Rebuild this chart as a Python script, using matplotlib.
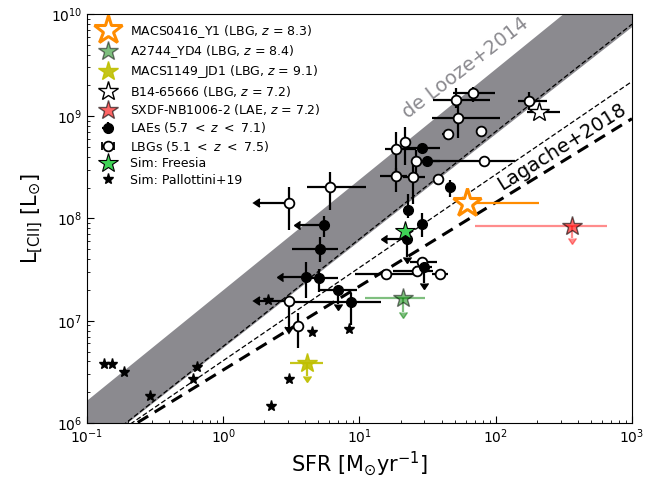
import numpy as np
import matplotlib.pyplot as plt

# de Looze+2014 band: upper / lower edges (log L = a + b log SFR)
delooze_upper = (7.298, 1.081)
delooze_lower = (6.732, 1.046)
# Lagache+2018 redshifts
lagache_z_thin = [5.0, 7.0]
lagache_z_thick = 8.3

# LBGs (5.1 < z < 7.5): SFR, SFR range, L[CII], L range, limit flags
lbg_sfr = [3.03, 6.07, 18.4, 21.5, 18.4, 24.5, 25.8, 37.8, 44.3, 77.8, 50.7,
           68.2, 52.5, 175, 82.2, 15.7, 28.6, 26.5, 38.9, 3.03, 3.51]
lbg_sfr_lo = [1.86, 4.09, 15.4, 21.5, 14.1, 20.8, 25.8, 34.5, 40.5, 71.5, 34.5,
              48.4, 33.8, 145, 32.9, 9.25, 23.4, 17.6, 33.8, 1.86, 3.51]
lbg_sfr_hi = [3.03, 11.1, 26.2, 21.5, 22.2, 30.2, 25.8, 40.5, 48.4, 85, 90.5,
              98.5, 107, 236, 138, 26.2, 36.8, 34.5, 44.8, 3.03, 3.51]
lbg_L = [1.43e8, 2.05e8, 4.76e8, 5.65e8, 2.61e8, 2.57e8, 3.66e8, 2.45e8, 6.72e8,
         7.18e8, 1.44e9, 1.68e9, 9.7e8, 1.41e9, 3.66e8, 2.86e7, 3.79e7, 3.04e7,
         2.86e7, 1.57e7, 8.9e6]
lbg_L_lo = [7.74e7, 1.21e8, 2.77e8, 3.34e8, 1.8e8, 1.4e8, 2.6e8, 2.45e8, 6.72e8,
            7.18e8, 1.21e9, 1.39e9, 6.09e8, 1.15e9, 3.66e8, 2.86e7, 3.79e7,
            3.04e7, 2.86e7, 8.78e6, 5.43e6]
lbg_L_hi = [2.05e8, 2.87e8, 7.08e8, 7.9e8, 3.1e8, 3.3e8, 4.7e8, 2.45e8, 6.72e8,
            7.18e8, 1.89e9, 1.95e9, 1.44e9, 1.74e9, 3.66e8, 2.86e7, 3.79e7,
            3.04e7, 2.86e7, 1.57e7, 1.19e7]
lbg_sfr_ul = [1, 0, 0, 0, 0, 0, 0, 0, 0, 0, 0, 0, 0, 0, 0, 0, 0, 0, 0, 1, 0]
lbg_L_ul = [0, 0, 0, 0, 0, 0, 0, 0, 0, 0, 0, 0, 0, 0, 0, 0, 0, 0, 0, 1, 0]

# LAEs (5.7 < z < 7.1)
lae_sfr = [29.0, 31.1, 46.0, 22.8, 28.6, 22.5, 5.48, 5.12, 4.04, 5.04, 6.98, 8.65, 29.8]
lae_sfr_lo = [21.5, 26.0, 46.0, 22.8, 28.6, 15.8, 3.65, 3.18, 2.75, 3.98, 5.12, 3.3, 25.5]
lae_sfr_hi = [38.9, 39.0, 46.0, 22.8, 28.6, 22.5, 5.48, 6.98, 4.04, 6.98, 9.53, 14.5, 33.8]
lae_L = [4.87e8, 3.66e8, 2.05e8, 1.21e8, 8.9e7, 6.36e7, 8.65e7, 5.05e7, 2.70e7,
         2.61e7, 2.0e7, 1.51e7, 3.39e7]
lae_L_lo = [4.87e8, 3.66e8, 1.63e8, 1.01e8, 6.65e7, 4.17e7, 6.65e7, 3.79e7, 1.66e7,
            1.93e7, 1.45e7, 9.1e6, 2.33e7]
lae_L_hi = [4.87e8, 3.66e8, 2.4e8, 1.75e8, 1.14e8, 6.36e7, 1.05e8, 6.65e7, 3.79e7,
            3.2e7, 2.0e7, 1.88e7, 3.39e7]
lae_sfr_ul = [0, 0, 0, 0, 0, 1, 1, 0, 1, 0, 0, 0, 0]
lae_L_ul = [0, 0, 0, 0, 0, 1, 0, 0, 0, 0, 1, 0, 1]

# Sim: Pallottini+19
pal_sfr = [0.134, 0.153, 0.188, 0.290, 0.638, 0.596, 2.26, 3.05, 4.45, 8.4, 2.14]
pal_L = [3.79e6, 3.79e6, 3.18e6, 1.82e6, 3.56e6, 2.70e6, 1.47e6, 2.70e6, 7.84e6, 8.28e6, 1.6e7]

# Sim: Freesia
freesia_sfr, freesia_L = 21.5, 7.6e7

# individual high-z galaxies: SFR, SFR err (low, high), L[CII], L err (upper limits)
m0416_sfr, m0416_sfr_err, m0416_L = 61.4, (8, 146), 1.42e8
a2744_sfr, a2744_sfr_err, a2744_L, a2744_L_err = 20.7, (9.7, 9.5), 1.66e7, 0.43e7
m1149_sfr, m1149_sfr_err, m1149_L, m1149_L_err = 4.1, (1.0, 1.3), 3.86e6, 1.0e6
b14_sfr, b14_sfr_err, b14_L = 208, (39, 87), 1.11e9
sxdf_sfr, sxdf_sfr_err, sxdf_L, sxdf_L_err = 360, (290, 290), 8.53e7, 2.1e7


def asym(val, lo, hi):
    val, lo, hi = np.array(val), np.array(lo), np.array(hi)
    return np.vstack([val - lo, hi - val])


fig = plt.figure(figsize=(6.68, 4.79), dpi=100)
ax = fig.add_axes([0.1302, 0.1169, 0.8159, 0.8539])
ax.set_xscale('log')
ax.set_yscale('log')
ax.set_xlim(0.1, 1e3)
ax.set_ylim(1e6, 1e10)

# relations
lsfr = np.linspace(-1, 3, 200)
sfr = 10 ** lsfr
ax.fill_between(sfr, 10 ** (delooze_lower[0] + delooze_lower[1] * lsfr),
                10 ** (delooze_upper[0] + delooze_upper[1] * lsfr),
                color='#8b8a8f', lw=0, zorder=0)
for z in lagache_z_thin:
    ax.plot(sfr, 10 ** ((1.4 - 0.07 * z) * lsfr + 7.1 - 0.07 * z),
            'k--', lw=0.9, dashes=(4, 2), zorder=1)
ax.plot(sfr, 10 ** ((1.4 - 0.07 * lagache_z_thick) * lsfr + 7.1 - 0.07 * lagache_z_thick),
        'k--', lw=2.2, dashes=(4, 2.5), zorder=1)
ax.text(60, 3.0e9, 'de Looze+2014', color='#8b8a8f', fontsize=14,
        rotation=37.5, ha='center', va='center', rotation_mode='anchor')
ax.text(303, 5.0e8, 'Lagache+2018', color='k', fontsize=14,
        rotation=32, ha='center', va='center', rotation_mode='anchor')

# compilations
lbg_sfr_ul = np.array(lbg_sfr_ul, bool)
lbg_L_ul = np.array(lbg_L_ul, bool)
lae_sfr_ul = np.array(lae_sfr_ul, bool)
lae_L_ul = np.array(lae_L_ul, bool)

ax.errorbar(lbg_sfr, lbg_L, xerr=asym(lbg_sfr, lbg_sfr_lo, lbg_sfr_hi),
            yerr=asym(lbg_L, lbg_L_lo, lbg_L_hi), xuplims=lbg_sfr_ul, uplims=lbg_L_ul,
            fmt='o', color='k', ms=7, mfc='w', mec='k', mew=1.3, ecolor='k',
            elinewidth=1.6, capsize=0, zorder=3)
ax.errorbar(lae_sfr, lae_L, xerr=asym(lae_sfr, lae_sfr_lo, lae_sfr_hi),
            yerr=asym(lae_L, lae_L_lo, lae_L_hi), xuplims=lae_sfr_ul, uplims=lae_L_ul,
            fmt='o', color='k', ms=7, ecolor='k', elinewidth=1.6,
            capsize=0, zorder=3)

# legend proxies for the compilations
h_lae = ax.errorbar([np.nan], [np.nan], xerr=[1], yerr=[1], fmt='o', color='k', ms=7,
                    ecolor='k', elinewidth=1.6, capsize=0)
h_lbg = ax.errorbar([np.nan], [np.nan], xerr=[1], fmt='o', color='k', ms=7, mfc='w',
                    mec='k', mew=1.3, ecolor='k', elinewidth=1.6, capsize=3)

h_pal, = ax.plot(pal_sfr, pal_L, '*', color='k', ms=8, ls='none', zorder=4)
h_fre, = ax.plot([freesia_sfr], [freesia_L], '*', color='#3fd356', mec='k', mew=0.8,
                 ms=15, ls='none', zorder=5)

# individual galaxies
ax.errorbar([m0416_sfr], [m0416_L], xerr=[[m0416_sfr_err[0]], [m0416_sfr_err[1]]],
            fmt='none', color='darkorange', elinewidth=1.6, zorder=4)
h_m0416, = ax.plot([m0416_sfr], [m0416_L], '*', ms=21, mfc='w', mec='darkorange',
                   mew=2.2, ls='none', zorder=5)

ax.errorbar([a2744_sfr], [a2744_L], xerr=[[a2744_sfr_err[0]], [a2744_sfr_err[1]]],
            yerr=[[a2744_L_err], [0]], uplims=[True], fmt='none', color='green',
            elinewidth=1.6, alpha=0.5, zorder=4)
h_a2744, = ax.plot([a2744_sfr], [a2744_L], '*', ms=15, color='green', mec='k',
                   alpha=0.5, ls='none', zorder=5)

ax.errorbar([m1149_sfr], [m1149_L], xerr=[[m1149_sfr_err[0]], [m1149_sfr_err[1]]],
            yerr=[[m1149_L_err], [0]], uplims=[True], fmt='none', color='#bfbf00',
            elinewidth=1.6, alpha=0.9, zorder=4)
h_m1149, = ax.plot([m1149_sfr], [m1149_L], '*', ms=15, color='#bfbf00',
                   mec='#bfbf00', alpha=0.9, ls='none', zorder=5)

ax.errorbar([b14_sfr], [b14_L], xerr=[[b14_sfr_err[0]], [b14_sfr_err[1]]],
            fmt='none', color='k', elinewidth=1.6, zorder=4)
h_b14, = ax.plot([b14_sfr], [b14_L], '*', ms=15, mfc='w', mec='k', mew=1.0,
                 ls='none', zorder=5)

ax.errorbar([sxdf_sfr], [sxdf_L], xerr=[[sxdf_sfr_err[0]], [sxdf_sfr_err[1]]],
            yerr=[[sxdf_L_err], [0]], uplims=[True], fmt='none', color='red',
            elinewidth=1.6, alpha=0.45, zorder=4)
h_sxdf, = ax.plot([sxdf_sfr], [sxdf_L], '*', ms=15, color='red', mec='k',
                  alpha=0.6, ls='none', zorder=5)

handles = [h_m0416, h_a2744, h_m1149, h_b14, h_sxdf, h_lae, h_lbg, h_fre, h_pal]
labels = ['MACS0416_Y1 (LBG, $z$ = 8.3)', 'A2744_YD4 (LBG, $z$ = 8.4)',
          'MACS1149_JD1 (LBG, $z$ = 9.1)', 'B14-65666 (LBG, $z$ = 7.2)',
          'SXDF-NB1006-2 (LAE, $z$ = 7.2)', 'LAEs (5.7 $<$ $z$ $<$ 7.1)',
          'LBGs (5.1 $<$ $z$ $<$ 7.5)', 'Sim: Freesia', 'Sim: Pallottini+19']
ax.legend(handles, labels, loc='upper left', frameon=False, fontsize=9,
          labelspacing=0.27, handletextpad=0.75, borderaxespad=0.3)

ax.set_xlabel(r'SFR [M$_{\odot}$yr$^{-1}$]', fontsize=15, labelpad=2)
ax.set_ylabel(r'L$_{\rm [CII]}$ [L$_{\odot}$]', fontsize=15)
ax.tick_params(which='both', direction='in', labelsize=10)
ax.tick_params(which='major', length=5)
ax.tick_params(which='minor', length=2.5)

fig.savefig('out.png', dpi=100)
